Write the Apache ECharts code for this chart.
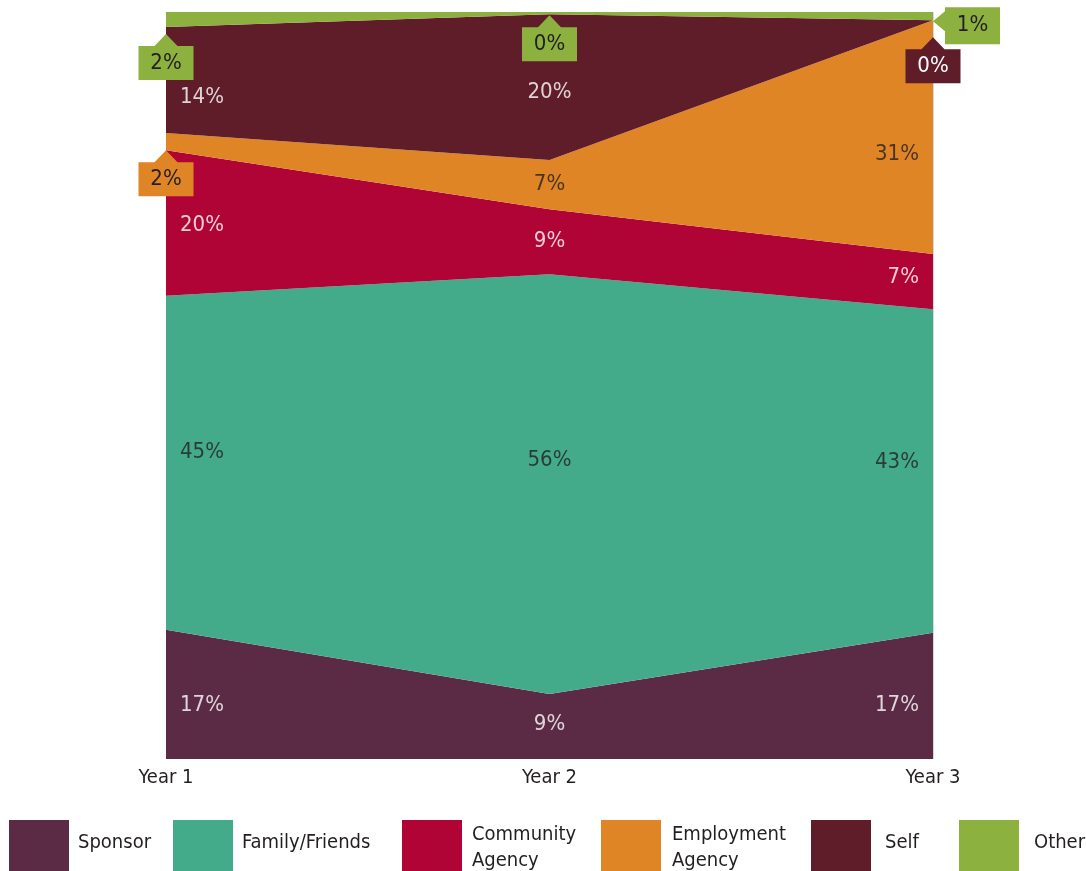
<!DOCTYPE html>
<html>
<head>
<meta charset="utf-8">
<title>Source of referral by year</title>
<script src="https://cdn.jsdelivr.net/npm/echarts@6/dist/echarts.min.js"></script>
<style>
  html, body { margin: 0; padding: 0; background: #fff; }
  #chart { width: 1086px; height: 871px; }
</style>
</head>
<body>
<div id="chart"></div>
<script>
  // categories
  var years = ['Year 1', 'Year 2', 'Year 3']
  // share of each source, in percent
  var sponsor = [17.3, 8.7, 16.9]
  var familyFriends = [44.7, 56.2, 43.3]
  var communityAgency = [19.5, 8.7, 7.4]
  var employmentAgency = [2.3, 6.6, 31.3]
  var self = [14.2, 19.5, 0]
  var other = [2.0, 0.3, 1.1]

  var sources = [
    { name: 'Sponsor', values: sponsor, color: '#5b2b45', text: '#ffffff' },
    { name: 'Family/Friends', values: familyFriends, color: '#44ab8a', text: '#231f20' },
    { name: 'Community Agency', values: communityAgency, color: '#b00436', text: '#ffffff' },
    { name: 'Employment Agency', values: employmentAgency, color: '#e08526', text: '#231f20' },
    { name: 'Self', values: self, color: '#5f1c29', text: '#ffffff' },
    { name: 'Other', values: other, color: '#8db13f', text: '#231f20' }
  ]

  // small pixel nudges for the in-band labels, per source and year
  var labelNudge = {
    'Sponsor': [11, -2, 9],
    'Family/Friends': [-11, -24, -9],
    'Community Agency': [2, 0, -4],
    'Employment Agency': [0, 0, 17],
    'Self': [17, 5, 0],
    'Other': [0, 0, 0]
  }
  // small values get a callout tag instead (dy = extra drop of the arrow tip)
  var tags = {
    'Employment Agency': { 0: { dy: 0 } },
    'Self': { 2: { dy: 17 } },
    'Other': { 0: { dy: 7 }, 1: { dy: 1 }, 2: { dy: 1, left: true } }
  }

  var font = "'Liberation Sans Narrow', 'DejaVu Sans Condensed', Roboto, sans-serif"
  var tagUp = 'path://M0,12L16,12L27.5,0L39,12L55,12L55,46L0,46Z'
  var tagLeft = 'path://M0,14L12,4L12,0L67,0L67,37L12,37L12,24Z'

  var chart = echarts.init(document.getElementById('chart'))

  // running bottom of each band
  var bottoms = sources.map(function () { return [0, 0, 0] })
  for (var s = 1; s < sources.length; s++) {
    for (var i = 0; i < years.length; i++) {
      bottoms[s][i] = bottoms[s - 1][i] + sources[s - 1].values[i]
    }
  }

  var labelPoints = []
  var series = sources.map(function (src, s) {
    var marks = []
    src.values.forEach(function (v, i) {
      var txt = Math.round(v) + '%'
      var tag = tags[src.name] && tags[src.name][i]
      if (tag) {
        if (tag.left) {
          marks.push({
            coord: [i, bottoms[s][i]],
            symbol: tagLeft,
            symbolSize: [67, 37],
            symbolOffset: [33.5, 4.5 + tag.dy],
            itemStyle: { color: src.color },
            label: { formatter: txt, color: src.text, offset: [6, 0] }
          })
        } else {
          marks.push({
            coord: [i, bottoms[s][i]],
            symbol: tagUp,
            symbolSize: [55, 46],
            symbolOffset: [0, 23 + tag.dy],
            itemStyle: { color: src.color },
            label: { formatter: txt, color: src.text, offset: [0, 6] }
          })
        }
        return
      }
      labelPoints.push({
        value: [i, bottoms[s][i] + v / 2],
        label: {
          formatter: txt,
          color: src.text,
          align: ['left', 'center', 'right'][i],
          offset: [[14, 0, -14][i], labelNudge[src.name][i]]
        }
      })
    })
    return {
      name: src.name,
      type: 'line',
      stack: 'total',
      data: src.values,
      symbol: 'none',
      color: src.color,
      lineStyle: { width: 0 },
      areaStyle: { color: src.color, opacity: 1 },
      emphasis: { disabled: true },
      markPoint: {
        silent: true,
        label: { show: true, position: 'inside', fontSize: 22, fontFamily: font },
        data: marks
      }
    }
  })

  series.push({
    type: 'scatter',
    name: 'labels',
    symbolSize: 0,
    silent: true,
    z: 4,
    label: { show: true, position: 'inside', fontSize: 22, fontFamily: font },
    data: labelPoints
  })

  // legend: one block per source, placed along the bottom
  var legendLeft = [9, 173, 402, 601, 811, 959]
  var legendGap = [4, 4, 5, 6, 9, 10]
  var legends = sources.map(function (src, k) {
    var twoLines = src.name.indexOf(' Agency') > 0
    return {
      left: legendLeft[k],
      top: 820,
      padding: 0,
      icon: 'rect',
      itemWidth: 60,
      itemHeight: 52,
      selectedMode: false,
      data: [src.name],
      formatter: function (name) {
        return twoLines ? '{t|' + name.replace(' Agency', '}\n{t|Agency}') : '{t|' + name + '}'
      },
      textStyle: {
        fontSize: 20, color: '#231f20', fontFamily: font,
        rich: {
          t: {
            fontSize: 20, lineHeight: 26, color: '#231f20', fontFamily: font,
            padding: twoLines ? [4, 0, 0, legendGap[k]] : [0, 0, 6, legendGap[k]]
          }
        }
      }
    }
  })

  chart.setOption({
    animation: false,
    textStyle: { fontFamily: font },
    grid: { left: 166, right: 153, top: 12, bottom: 112 },
    legend: legends,
    xAxis: {
      type: 'category',
      data: years,
      boundaryGap: false,
      axisLine: { show: false },
      axisTick: { show: false },
      splitLine: { show: true, lineStyle: { color: '#d8d8d8', width: 1 } },
      axisLabel: { fontSize: 20, color: '#231f20', margin: 9, fontFamily: font }
    },
    yAxis: {
      type: 'value',
      min: 0,
      max: 100,
      show: false,
      splitLine: { show: false }
    },
    series: series
  })
</script>
</body>
</html>
